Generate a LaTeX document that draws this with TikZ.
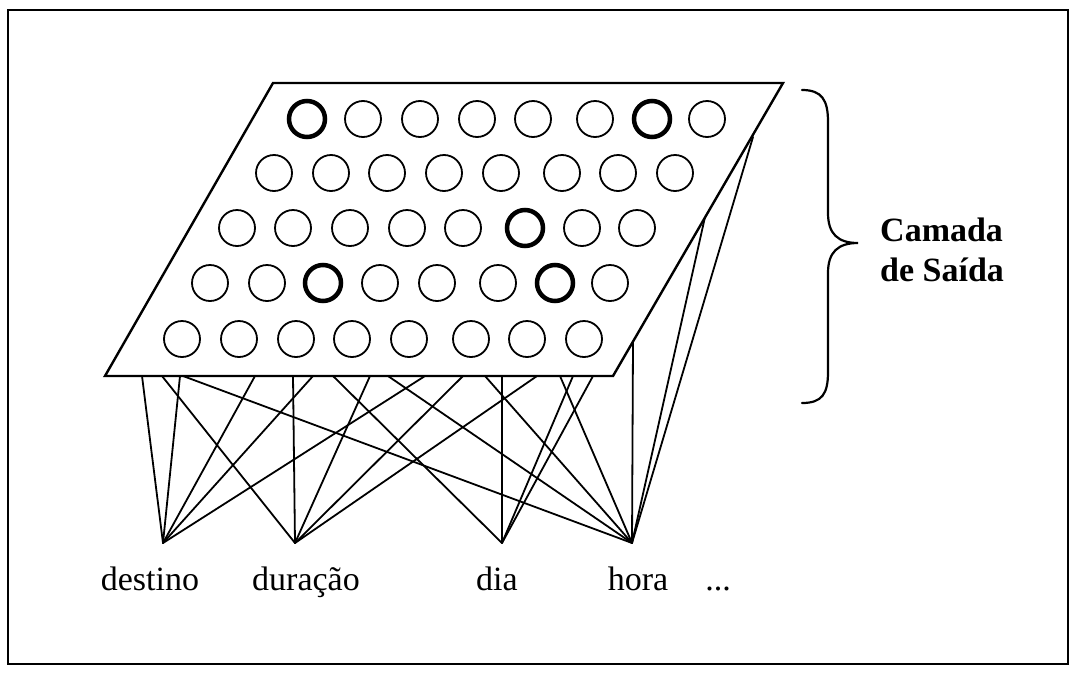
\documentclass[tikz,border=0pt]{standalone}
\usepackage{fontspec}
\setmainfont{Liberation Serif}
\begin{document}
\begin{tikzpicture}[x=1pt,y=-1pt,
  conn/.style={line width=1.8pt, line cap=round},
  plane/.style={line width=2.4pt, fill=white, line join=miter},
  neuron/.style={circle, draw, line width=1.8pt, minimum size=36pt, inner sep=0pt},
  winner/.style={neuron, line width=4.5pt},
  lbl/.style={font=\fontsize{34}{40}\selectfont, inner sep=0pt, anchor=base},
  ttl/.style={font=\bfseries\fontsize{34}{40}\selectfont, inner sep=0pt, anchor=base west},
  frame/.style={line width=2.4pt},
  brace/.style={line width=2.2pt, line cap=round}]
\useasboundingbox (0,0) rectangle (1075,672);
\draw[frame] (8,10) rectangle (1068,664);

% input points
\coordinate (destino) at (163,543);
\coordinate (duracao) at (295,543);
\coordinate (dia) at (502,543);
\coordinate (hora) at (632,543);

% attachment points on the plane
\foreach \x in {142,162,180,183,255,293,313,333,370,388,425,463,485,502,537,560,573,593}
  \coordinate (b\x) at (\x,376);
\coordinate (r1) at (633,342);
\coordinate (r2) at (705,217);
\coordinate (r3) at (753,137);

% connectors
\foreach \x in {142,180,255,313,425} \draw[conn] (destino) -- (b\x);
\foreach \x in {162,293,370,463,537} \draw[conn] (duracao) -- (b\x);
\foreach \x in {333,502,573,593} \draw[conn] (dia) -- (b\x);
\foreach \x in {183,388,485,560} \draw[conn] (hora) -- (b\x);
\foreach \p in {r1,r2,r3} \draw[conn] (hora) -- (\p);

% output layer plane
\draw[plane] (105,376) -- (273,83) -- (783,83) -- (613,376) -- cycle;

% neurons
\foreach \x [count=\i] in {307,363,420,477,533,595,652,707}
  \node[neuron] (n1-\i) at (\x,119) {};
\foreach \x [count=\i] in {274,331,387,444,501,562,618,675}
  \node[neuron] (n2-\i) at (\x,173) {};
\foreach \x [count=\i] in {237,293,350,407,463,525,582,637}
  \node[neuron] (n3-\i) at (\x,228) {};
\foreach \x [count=\i] in {210,267,323,380,437,498,555,610}
  \node[neuron] (n4-\i) at (\x,283) {};
\foreach \x [count=\i] in {182,239,296,352,409,471,527,584}
  \node[neuron] (n5-\i) at (\x,339) {};
% winners
\node[winner] (w1) at (n1-1) {};
\node[winner] (w2) at (n1-7) {};
\node[winner] (w3) at (n3-6) {};
\node[winner] (w4) at (n4-3) {};
\node[winner] (w5) at (n4-7) {};

% brace
\draw[brace] (802,90) .. controls (822,90) and (828,100) .. (828,122)
  -- (828,213) .. controls (828,234) and (838,243) .. (858,243)
  .. controls (838,243) and (828,252) .. (828,273)
  -- (828,372) .. controls (828,394) and (822,403) .. (802,403);

% labels
\node[ttl] (t1) at (880,241) {Camada};
\node[ttl] (t2) at (880,281) {de Saída};
\node[lbl] (l1) at (150,590) {destino};
\node[lbl] (l2) at (306,590) {duração};
\node[lbl] (l3) at (497,590) {dia};
\node[lbl] (l4) at (638,590) {hora};
\node[lbl] (l5) at (718,590) {...};
\end{tikzpicture}
\end{document}
